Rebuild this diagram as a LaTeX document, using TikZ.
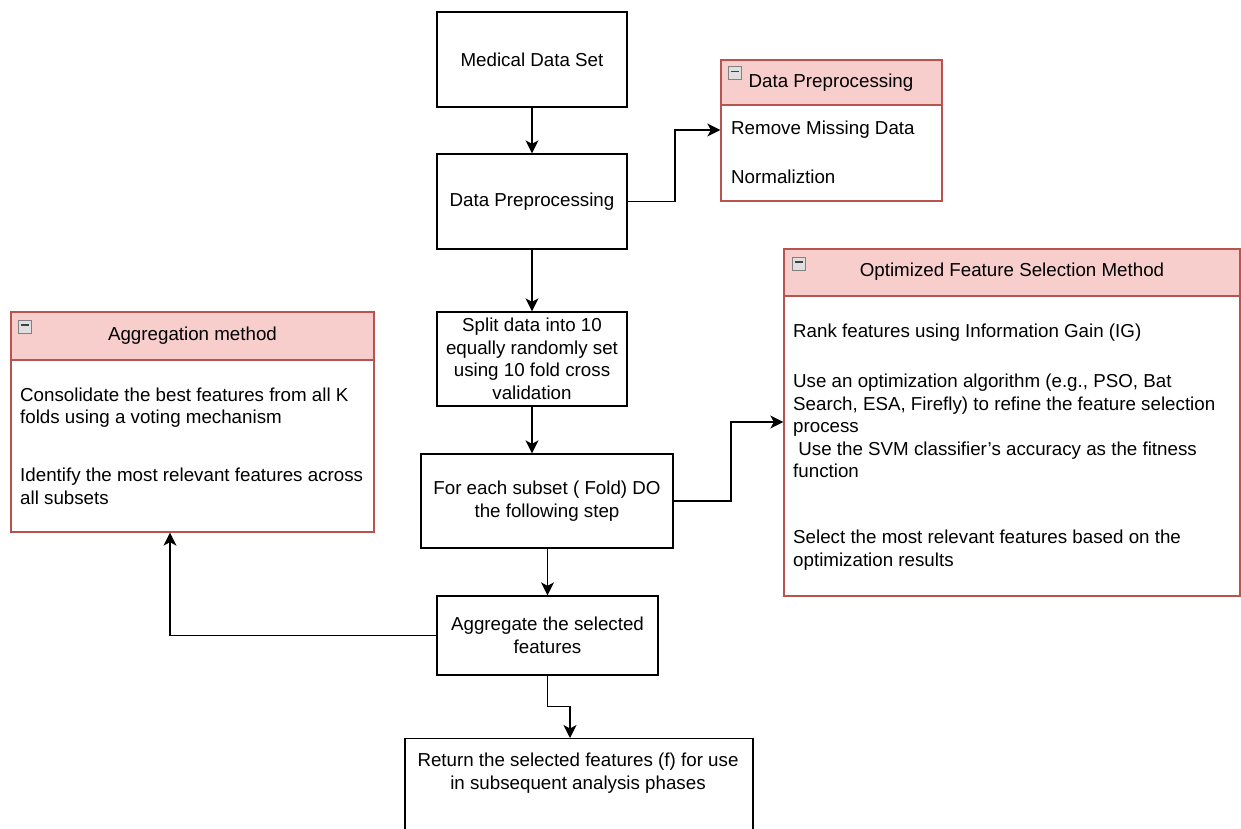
\documentclass[tikz,border=0pt]{standalone}
\usepackage{fontspec}
\setmainfont{Liberation Sans}
\usetikzlibrary{arrows.meta,calc}
\definecolor{hdrfill}{HTML}{F8CECC}
\definecolor{hdrline}{HTML}{B85450}
\begin{document}
\begin{tikzpicture}[x=1bp,y=-1bp,
  every node/.style={font=\fontsize{18.75bp}{22.5bp}\selectfont, inner sep=0pt},
  flowbox/.style={draw=black, line width=1.3bp, fill=white, align=center},
  hdr/.style={draw=hdrline, fill=hdrfill, line width=1.3bp},
  bodybox/.style={draw=hdrline, fill=white, line width=1.3bp},
  item/.style={anchor=west, align=left},
  minusicon/.style={draw=gray, fill=gray!25, line width=0.8bp, minimum size=13bp,
    path picture={\draw[line width=1.8bp, black!75]
      ([xshift=-4bp,yshift=1.5bp]path picture bounding box.center) --
      ([xshift=4bp,yshift=1.5bp]path picture bounding box.center);}},
  link/.style={draw=black, line width=1.3bp, -{Stealth[length=13bp,width=13bp,inset=3.5bp]}}]

\useasboundingbox (0,0) rectangle (1241,829);
\clip (0,0) rectangle (1241,829);
\fill[white] (0,0) rectangle (1241,829);

% main flow
\node[flowbox, minimum width=190bp, minimum height=95bp] (med) at (532,59.5) {Medical Data Set};
\node[flowbox, minimum width=190bp, minimum height=95bp] (dp) at (532,201.5) {Data Preprocessing};
\node[flowbox, minimum width=190bp, minimum height=94bp] (split) at (532,359) {Split data into 10\\equally randomly set\\using 10 fold cross\\validation};
\node[flowbox, minimum width=252bp, minimum height=94bp] (fe) at (547,501) {For each subset ( Fold) DO\\the following step};
\node[flowbox, minimum width=221bp, minimum height=79bp] (ag) at (547.5,635.5) {Aggregate the selected\\features};
\node[flowbox, minimum width=348bp, minimum height=140bp, anchor=north] (ret) at (579,738) {};
\node[align=center] (rett) at (578,773) {Return the selected features (f) for use\\in subsequent analysis phases};

% Data preprocessing container
\node[hdr, minimum width=221bp, minimum height=45bp] (dpc-h) at (831.5,82.5) {};
\node (dpc-t) at (831,83) {Data Preprocessing};
\node[bodybox, minimum width=221bp, minimum height=96bp] (dpc-b) at (831.5,153) {};
\node[minusicon] (dpc-i) at (735,73) {};
\node[item] (rmd) at (731,130) {Remove Missing Data};
\node[item] (norm) at (731,177) {Normaliztion};

% Optimized feature selection container
\node[hdr, minimum width=456bp, minimum height=47bp] (ofs-h) at (1012,272.5) {};
\node (ofs-t) at (1012,272) {Optimized Feature Selection Method};
\node[bodybox, minimum width=456bp, minimum height=300bp] (ofs-b) at (1012,446) {};
\node[minusicon] (ofs-i) at (798.5,263.5) {};
\node[item] (ofs1) at (793,333) {Rank features using Information Gain (IG)};
\node[item] (ofs2) at (793,426) {Use an optimization algorithm (e.g., PSO, Bat\\Search, ESA, Firefly) to refine the feature selection\\process\\\ Use the SVM classifier's accuracy as the fitness\\function};
\node[item] (ofs3) at (793,550) {Select the most relevant features based on the\\optimization results};

% Aggregation container
\node[hdr, minimum width=363bp, minimum height=48bp] (agg-h) at (192.5,336) {};
\node (agg-t) at (192.5,336) {Aggregation method};
\node[bodybox, minimum width=363bp, minimum height=172bp] (agg-b) at (192.5,446) {};
\node[minusicon] (agg-i) at (25,326.5) {};
\node[item] (agg1) at (20,407.5) {Consolidate the best features from all K\\folds using a voting mechanism};
\node[item] (agg2) at (20,486.5) {Identify the most relevant features across\\all subsets};

% connectors
\coordinate (b1) at (675,0);
\coordinate (b2) at (731,0);
\coordinate (ofsin) at ([yshift=24bp]ofs-b.west);
\coordinate (aggin) at ([xshift=-22.5bp]agg-b.south);
\coordinate (retin) at ([xshift=-9bp]ret.north);

\draw[link] (med) -- (dp);
\draw[link] (dp.east) -- (b1 |- dp.east) -- (b1 |- rmd) -- (dpc-b.west |- rmd);
\draw[link] (dp) -- (split);
\draw[link] (split.south) -- (split.south |- fe.north);
\draw[link] (fe.south -| ag.north) -- (ag.north);
\draw[link] (fe.east) -- (b2 |- fe.east) -- (b2 |- ofsin) -- (ofsin);
\draw[link] (ag.west) -- (aggin |- ag.west) -- (aggin);
\draw[link] (ag.south) |- ($(ag.south)!0.5!(retin)$) -| (retin);
\end{tikzpicture}
\end{document}
